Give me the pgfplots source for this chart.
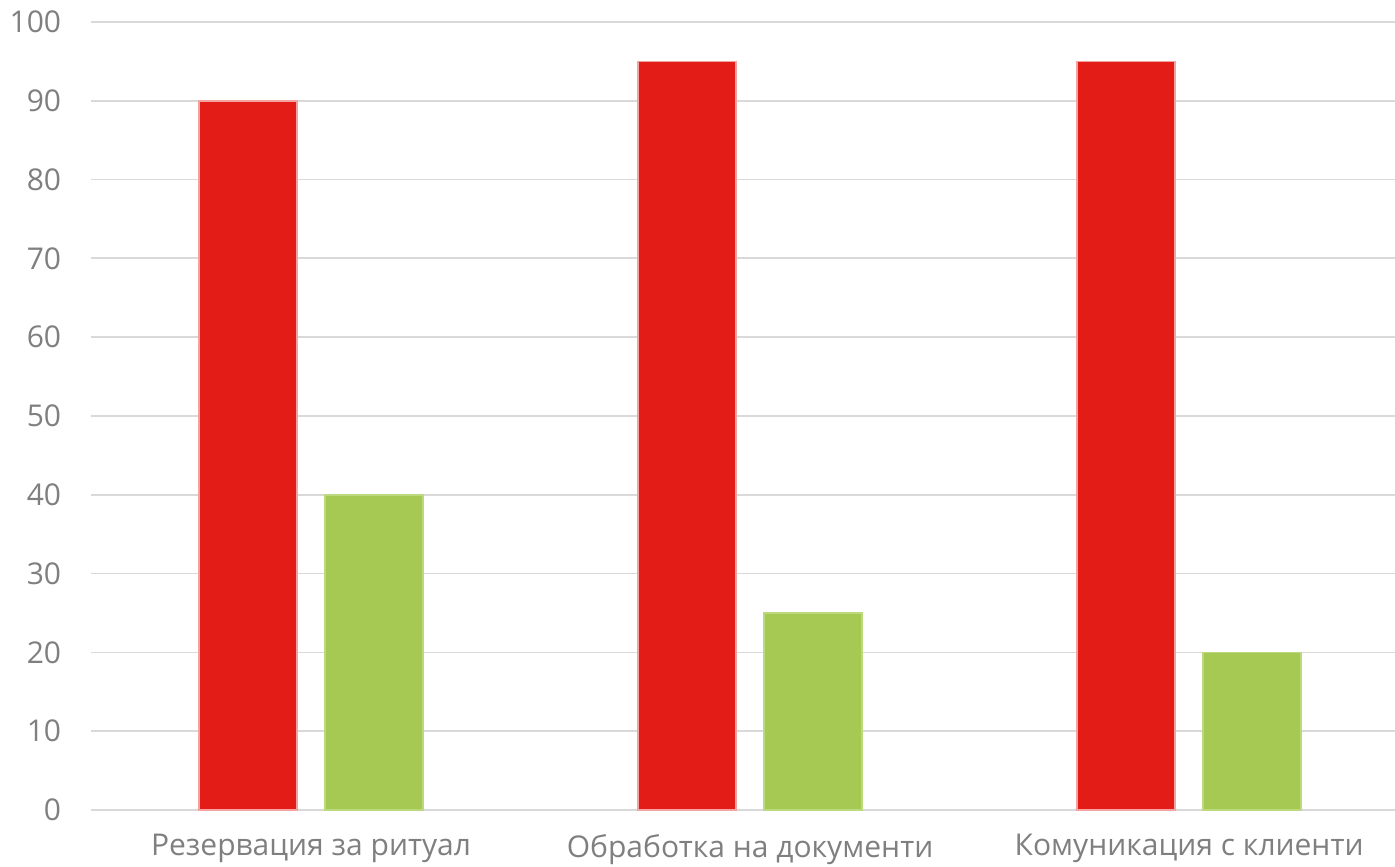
\documentclass[border=0pt]{standalone}
\usepackage{pgfplots}
\pgfplotsset{compat=1.18}
\usepackage{fontspec}
\setmainfont{Open Sans}
\definecolor{barred}{HTML}{E41C17}
\definecolor{rededge}{HTML}{F5A3A0}
\definecolor{bargreen}{HTML}{A5C952}
\definecolor{greenedge}{HTML}{BCD97E}
\definecolor{gridgrey}{HTML}{D9D9D9}
\definecolor{labelgrey}{HTML}{7F7F7F}
\begin{document}
\begin{tikzpicture}
\begin{axis}[
    at={(0,0)}, anchor=south west,
    scale only axis,
    width=651.75pt, height=394pt,
    xmin=-0.5, xmax=2.469,
    ymin=0, ymax=100,
    ytick={0,10,...,100},
    xtick={0,1,2},
    xticklabels={Резервация за ритуал, Обработка на документи, Комуникация с клиенти},
    /pgf/number format/assume math mode=true,
    ymajorgrids, major grid style={gridgrey, line width=0.9pt},
    axis line style={draw=none},
    major tick length=0pt,
    ybar=14pt, bar width=49pt,
    tick label style={font=\fontsize{15}{18}\selectfont, text=labelgrey, inner sep=0pt},
    yticklabel style={xshift=-15pt},
    xticklabel style={yshift=-12pt},
    clip=false,
]
\addplot[fill=barred, draw=rededge, line width=0.8pt] coordinates {(0,90) (1,95) (2,95)};
\addplot[fill=bargreen, draw=greenedge, line width=0.8pt] coordinates {(0,40) (1,25) (2,20)};
\end{axis}
\pgfresetboundingbox
\path[use as bounding box] (-45.75pt,-28pt) rectangle (651.75pt,405pt);
\end{tikzpicture}
\end{document}
